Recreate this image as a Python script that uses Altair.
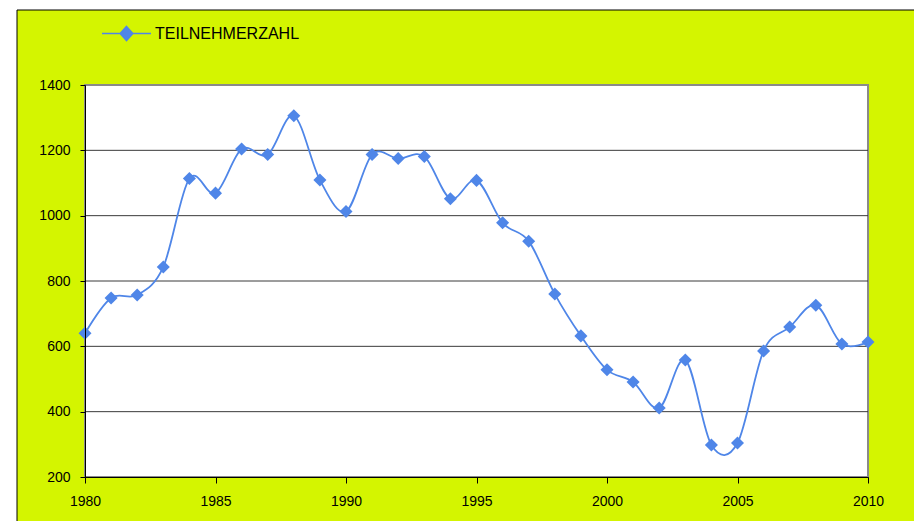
import altair as alt
import pandas as pd

years = list(range(1980, 2011))
values = [640, 748, 757, 843, 1114, 1069, 1204, 1187, 1306, 1109, 1013, 1187, 1175, 1181,
          1052, 1108, 978, 922, 760, 632, 528, 491, 411, 558, 298, 304, 586, 659, 726, 607, 613]
series_name = "TEILNEHMERZAHL"
grid_values = [400, 600, 800, 1000, 1200]
x_ticks = [1980, 1985, 1990, 1995, 2000, 2005, 2010]
y_ticks = [200, 400, 600, 800, 1000, 1200, 1400]

BLUE = "#4f86e8"
YELLOW = "#d4f500"
W, H = 783, 392
FONT = "Liberation Sans"

df = pd.DataFrame({"year": years, "value": values, "series": series_name})
grid_df = pd.DataFrame({"g": grid_values})

xscale = alt.Scale(domain=[1980, 2010], nice=False, zero=False)
yscale = alt.Scale(domain=[200, 1400], nice=False, zero=False)

frame = alt.Chart(alt.Data(values=[{}])).mark_rect(
    fill=YELLOW, stroke="black", strokeWidth=1
).encode(x=alt.value(-68), x2=alt.value(W + 80), y=alt.value(-75), y2=alt.value(H + 80))

plotbg = alt.Chart(alt.Data(values=[{}])).mark_rect(
    fill="white", stroke="#8a8a8a", strokeWidth=2
).encode(x=alt.value(0), x2=alt.value(W), y=alt.value(0), y2=alt.value(H))

xaxis = alt.Axis(values=x_ticks, format="d", title=None, grid=False, domainColor="black",
                 tickColor="black", tickSize=6, labelPadding=11, labelFont=FONT,
                 labelFontSize=14, labelColor="black", labelFlush=False, zindex=1)
yaxis = alt.Axis(values=y_ticks, format="d", title=None, grid=False, domainColor="black",
                 tickColor="black", tickSize=5, labelPadding=10, labelFont=FONT,
                 labelFontSize=14, labelColor="black", labelFlush=False, zindex=1)

grid = alt.Chart(grid_df).mark_rule(color="#3a3a3a", strokeWidth=1).encode(
    y=alt.Y("g:Q", scale=yscale, axis=yaxis)
)

color = alt.Color(
    "series:N",
    scale=alt.Scale(range=[BLUE]),
    legend=alt.Legend(
        title=None, orient="none", legendX=16, legendY=-77,
        symbolType="M-1,0L1,0M0,-0.29L0.26,0L0,0.29L-0.26,0Z",
        symbolSize=2401, symbolStrokeWidth=1.5, symbolFillColor=BLUE,
        symbolStrokeColor=BLUE, labelFont=FONT, labelFontSize=16,
        labelColor="black", labelOffset=3, padding=0,
    ),
)

line = alt.Chart(df).mark_line(interpolate="cardinal", strokeWidth=1.8).encode(
    x=alt.X("year:Q", scale=xscale, axis=xaxis),
    y=alt.Y("value:Q", scale=yscale, axis=yaxis),
    color=color,
)

points = alt.Chart(df).mark_point(shape="diamond", filled=True, size=170, opacity=1).encode(
    x=alt.X("year:Q", scale=xscale, axis=xaxis),
    y=alt.Y("value:Q", scale=yscale, axis=yaxis),
    color=color,
)

chart = alt.layer(frame, plotbg, grid, line, points).properties(
    width=W, height=H,
    autosize="none",
    padding={"left": 77, "top": 77, "right": 46, "bottom": 44},
    background="white",
).configure_view(stroke=None)

chart.save("out.html", embed_options={"renderer": "svg", "actions": False})
